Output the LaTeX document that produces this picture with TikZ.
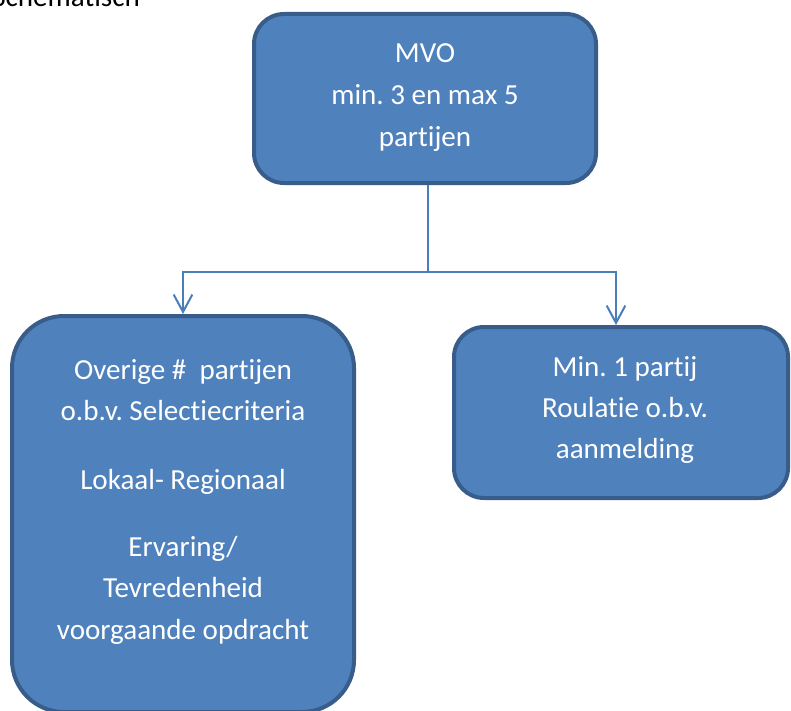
\documentclass[tikz,border=0pt]{standalone}
\usepackage{fontspec}
\setmainfont{Carlito}[Ligatures=NoCommon]
\usetikzlibrary{arrows.meta,calc}
\definecolor{boxfill}{HTML}{4F81BD}
\definecolor{boxline}{HTML}{385D8A}
\definecolor{connline}{HTML}{4A7EBB}
\frenchspacing
\begin{document}
\begin{tikzpicture}[x=0.75pt,y=-0.75pt,
  box/.style={draw=boxline,fill=boxfill,line width=3pt,inner sep=0pt},
  txt/.style={text=white,font=\fontsize{21.8}{31}\selectfont,anchor=base,inner sep=0pt},
  conn/.style={draw=connline,line width=1.5pt},
  tip/.style={-{Straight Barb[length=13pt,width=14pt]}}]
\useasboundingbox (0,0) rectangle (791,710);
\clip (0,0) rectangle (791,710);
% title (cut off at the top edge, as in the original)
\node[anchor=base west,inner sep=0pt,font=\fontsize{21.8}{31}\selectfont,text=black] (title) at (-8,7) {Schematisch};
% boxes
\node[box,rounded corners=22.5pt,minimum width=256.5pt,minimum height=126.75pt] (top) at (425,98.5) {};
\node[box,rounded corners=39pt,minimum width=256.5pt,minimum height=297pt] (left) at (183,514) {};
\node[box,rounded corners=22.5pt,minimum width=250.5pt,minimum height=128.25pt] (right) at (621,412.5) {};
% texts
\node[txt] (t1) at (425,63) {MVO};
\node[txt] (t2) at (425,104.5) {min. 3 en max 5};
\node[txt] (t3) at (425,146) {partijen};
\node[txt] (l1) at (183,379) {Overige \#\ \ partijen};
\node[txt] (l2) at (183,420) {o.b.v. Selectiecriteria};
\node[txt] (l3) at (183,489) {Lokaal- Regionaal};
\node[txt] (l4) at (183,556) {Ervaring/};
\node[txt] (l5) at (183,597) {Tevredenheid};
\node[txt] (l6) at (183,639) {voorgaande opdracht};
\node[txt] (r1) at (625,376) {Min. 1 partij};
\node[txt] (r2) at (625,417) {Roulatie o.b.v.};
\node[txt] (r3) at (625,458) {aanmelding};
% connectors
\coordinate (j) at (428,272);
\coordinate (rj) at (616,272);
\draw[conn] (top.south -| j) -- (j);
\draw[conn,tip] (j) -| (left.north);
\draw[conn,tip] (j) -- (rj) -- (rj |- right.north);
\end{tikzpicture}
\end{document}
